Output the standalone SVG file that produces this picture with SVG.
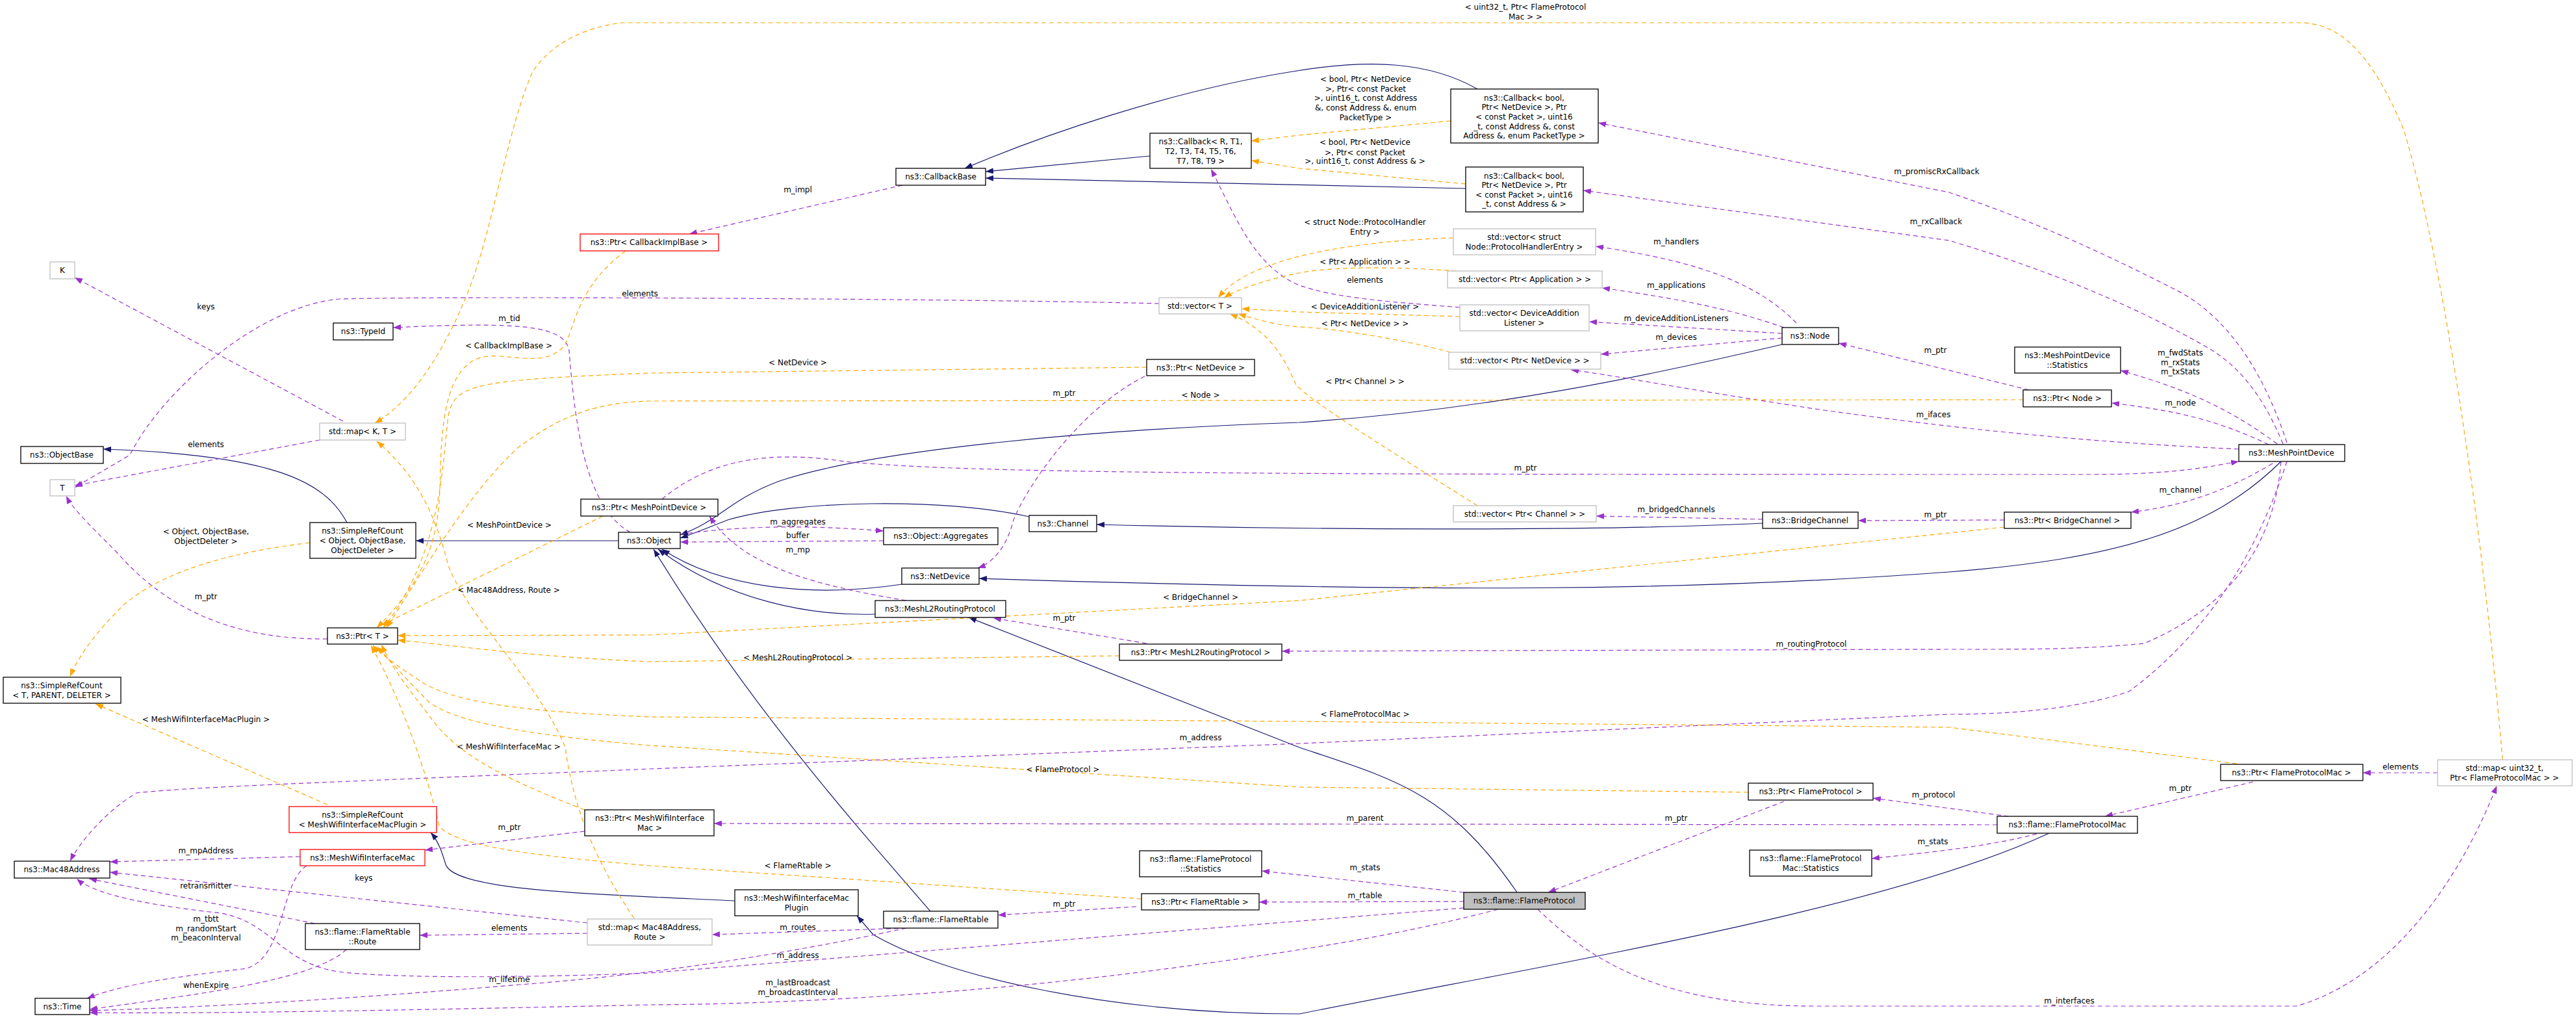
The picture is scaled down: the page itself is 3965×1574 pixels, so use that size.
<svg xmlns="http://www.w3.org/2000/svg" width="3965" height="1574" viewBox="0 0 3965 1574">
<style>
text{font-family:"DejaVu Sans","Liberation Sans",sans-serif;font-size:12px;fill:#000}
.n text,.lb{text-anchor:middle}
.b{fill:#fff;stroke:#000;stroke-width:1.3}
.g{fill:#fff;stroke:#bfbfbf;stroke-width:1.3}
.r{fill:#fff;stroke:#ff0000;stroke-width:1.3}
.h{fill:#bfbfbf;stroke:#000;stroke-width:1.3}
.i{fill:none;stroke:#191970;stroke-width:1.2;marker-end:url(#ai)}
.u{fill:none;stroke:#9a32cd;stroke-width:1.2;stroke-dasharray:7,5;marker-end:url(#au)}
.t{fill:none;stroke:#ffa500;stroke-width:1.2;stroke-dasharray:7,5;marker-end:url(#at)}
</style>
<defs>
<marker id="ai" markerWidth="12" markerHeight="9" refX="12" refY="4.5" orient="auto" markerUnits="userSpaceOnUse"><path d="M0,0 L12,4.5 L0,9 z" fill="#191970"/></marker>
<marker id="au" markerWidth="12" markerHeight="9" refX="12" refY="4.5" orient="auto" markerUnits="userSpaceOnUse"><path d="M0,0 L12,4.5 L0,9 z" fill="#9a32cd"/></marker>
<marker id="at" markerWidth="12" markerHeight="9" refX="12" refY="4.5" orient="auto" markerUnits="userSpaceOnUse"><path d="M0,0 L12,4.5 L0,9 z" fill="#ffa500"/></marker>
</defs>
<rect width="3965" height="1574" fill="#fff"/>
<g id="connectors">
<path class="i" d="M534,804 C500,740 420,700 159,691"/>
<path class="i" d="M952,832 L640,832"/>
<path class="i" d="M1770,240 L1517,264"/>
<path class="i" d="M2274,137 C2200,95 2110,90 1990,110 C1800,140 1600,210 1485,259"/>
<path class="i" d="M2256,290 L1517,274"/>
<path class="i" d="M2743,530 C2550,575 2300,630 2000,650 C1700,660 1350,690 1200,740 C1120,770 1110,800 1047,823"/>
<path class="i" d="M1584,795 C1450,765 1220,770 1120,800 C1090,812 1070,820 1047,828"/>
<path class="i" d="M1388,899 C1250,920 1110,905 1019,845"/>
<path class="i" d="M1347,945 C1250,948 1120,925 1013,845"/>
<path class="i" d="M1432,1402 C1300,1250 1150,1080 1006,845"/>
<path class="i" d="M1131,1386 C900,1375 700,1370 686,1330 C680,1310 675,1295 663,1281"/>
<path class="i" d="M3154,1282 C2900,1400 2400,1480 2000,1560 C1700,1560 1450,1500 1344,1438 L1319,1409"/>
<path class="i" d="M2335,1373 C2230,1220 2150,1200 2000,1150 L1491,950"/>
<path class="i" d="M3511,710 C3400,820 3250,860 3000,880 C2600,910 2200,912 1507,890"/>
<path class="i" d="M2713,805 C2450,818 2000,815 1688,807"/>

<path class="u" d="M528,648 L115,427"/>
<path class="u" d="M492,677 L115,747"/>
<path class="u" d="M1784,467 C1500,460 700,455 523,460 C400,470 250,600 200,700 L115,750"/>
<path class="u" d="M504,983 C350,985 250,930 180,850 C130,800 110,780 102,763"/>
<path class="u" d="M970,819 C900,780 885,650 876,540 C870,500 800,495 605,504"/>
<path class="u" d="M1389,285 L1061,360"/>
<path class="u" d="M1047,822 C1150,808 1250,808 1360,817"/>
<path class="u" d="M1360,832 L1047,834"/>
<path class="u" d="M1395,924 C1250,900 1140,870 1092,794"/>
<path class="u" d="M1762,579 C1660,630 1580,750 1560,800 C1550,840 1530,865 1505,874"/>
<path class="u" d="M1019,768 C1100,700 1200,695 1300,710 C1500,730 2000,730 3215,730 C3350,730 3400,718 3446,710"/>
<path class="u" d="M1765,990 L1529,951"/>
<path class="u" d="M1749,1395 L1536,1408"/>
<path class="u" d="M904,1436 L646,1439"/>
<path class="u" d="M904,1420 L169,1342"/>
<path class="u" d="M1395,1428 L1096,1438"/>
<path class="u" d="M485,1421 L137,1352"/>
<path class="u" d="M533,1461 C480,1510 300,1530 138,1553"/>
<path class="u" d="M462,1318 L169,1326"/>
<path class="u" d="M472,1332 C430,1360 440,1470 380,1490 C300,1500 200,1510 134,1536"/>
<path class="u" d="M900,1279 L654,1308"/>
<path class="u" d="M3074,1269 L1099,1267"/>
<path class="u" d="M2746,1233 L2383,1373"/>
<path class="u" d="M3092,1256 L2883,1228"/>
<path class="u" d="M3135,1283 C3050,1305 2950,1313 2881,1321"/>
<path class="u" d="M3468,1203 L3240,1256"/>
<path class="u" d="M3752,1189 L3637,1189"/>
<path class="u" d="M2367,1399 C2450,1480 2560,1548 2794,1548 L3535,1548 C3700,1500 3800,1320 3843,1209"/>
<path class="u" d="M2253,1373 L1942,1340"/>
<path class="u" d="M2253,1387 L1938,1388"/>
<path class="u" d="M2253,1397 L1000,1497 C800,1505 600,1505 520,1495 C430,1480 420,1420 340,1405 C250,1395 150,1380 118,1352"/>
<path class="u" d="M1395,1428 C1200,1470 1000,1500 800,1515 C500,1540 300,1550 138,1555"/>
<path class="u" d="M2306,1399 C2150,1440 2000,1463 1800,1490 C1500,1530 1200,1545 1000,1546 C600,1555 300,1560 138,1558"/>
<path class="u" d="M3520,710 C3490,800 3430,950 3277,1064 C3200,1090 3100,1099 3000,1099 L2000,1144 L1000,1183 C600,1200 300,1210 210,1220 C160,1250 120,1300 108,1325"/>
<path class="u" d="M2765,497 C2700,430 2600,400 2456,379"/>
<path class="u" d="M2746,504 C2650,470 2550,455 2466,443"/>
<path class="u" d="M2743,513 L2446,495"/>
<path class="u" d="M2743,520 L2464,545"/>
<path class="u" d="M3446,691 C3200,680 3000,658 2800,630 C2600,600 2500,580 2418,569"/>
<path class="u" d="M3492,684 C3400,640 3330,630 3250,620"/>
<path class="u" d="M3505,683 C3420,620 3350,595 3264,570"/>
<path class="u" d="M3520,681 C3480,560 3420,480 3345,444 C3200,370 3100,330 3000,296 L2460,189"/>
<path class="u" d="M3514,683 C3480,600 3440,560 3400,536 C3250,450 3100,400 3000,370 L2437,293"/>
<path class="u" d="M3498,713 C3420,760 3350,780 3280,788"/>
<path class="u" d="M3511,710 C3500,850 3420,940 3300,990 C3200,1000 3100,999 3000,999 L1973,1002"/>
<path class="u" d="M2713,799 L2457,794"/>
<path class="u" d="M3085,800 L2860,801"/>
<path class="u" d="M3123,600 L2830,528"/>
<path class="u" d="M2247,473 C2150,465 2060,460 2000,439 C1930,410 1900,330 1864,260"/>

<path class="t" d="M963,386 C890,440 885,500 870,530 C840,570 780,540 740,550 C690,565 680,640 678,720 C676,800 676,870 580,966"/>
<path class="t" d="M1765,565 L1000,574 C730,585 700,590 690,640 C680,720 680,850 590,966"/>
<path class="t" d="M3114,615 L1000,617 C900,620 850,650 797,689 C720,760 650,880 595,966"/>
<path class="t" d="M928,794 L587,962"/>
<path class="t" d="M976,1413 C900,1300 880,1220 870,1150 C830,1050 720,950 690,870 C670,790 640,730 580,679"/>
<path class="t" d="M3852,1169 C3820,800 3760,400 3700,200 C3650,80 3600,35 3540,35 L957,35 C880,45 840,80 820,110 C780,200 760,350 720,450 C680,550 630,620 577,651"/>
<path class="t" d="M477,835 C350,850 250,880 191,930 C150,970 120,1010 108,1041"/>
<path class="t" d="M504,1238 L147,1083"/>
<path class="t" d="M900,1246 C780,1200 700,1160 660,1100 C620,1050 600,1020 587,992"/>
<path class="t" d="M1723,1009 L1000,1018 C800,1010 680,990 612,985"/>
<path class="t" d="M3085,811 L3000,820 L2000,924 L1000,977 L612,978"/>
<path class="t" d="M3443,1175 L3000,1119 L2000,1110 L1000,1103 C800,1095 700,1080 650,1050 C620,1030 590,1010 574,993"/>
<path class="t" d="M2691,1219 L2000,1211 L1000,1147 C800,1130 700,1110 660,1080 C620,1040 595,1010 580,995"/>
<path class="t" d="M1757,1383 L1000,1332 C800,1315 700,1300 676,1271 C660,1200 620,1080 571,993"/>
<path class="t" d="M2237,366 C2100,370 2000,390 1950,410 C1910,425 1890,440 1875,458"/>
<path class="t" d="M2242,417 C2150,410 2050,410 2000,420 C1950,430 1905,445 1884,458"/>
<path class="t" d="M2247,487 L2000,480 L1911,475"/>
<path class="t" d="M2233,542 C2150,520 2050,505 2000,503 C1960,500 1930,490 1906,483"/>
<path class="t" d="M2274,778 C2150,700 2020,620 1995,592 C1980,560 1960,510 1893,483"/>
<path class="t" d="M2233,186 L2000,208 L1926,217"/>
<path class="t" d="M2256,283 L2000,259 L1926,247"/>

<g class="lb">
<text x="317" y="476">keys</text>
<text x="317" y="688">elements</text>
<text x="985" y="456">elements</text>
<text x="317" y="922">m_ptr</text>
<text x="784" y="494">m_tid</text>
<text x="1228" y="296">m_impl</text>
<text x="1228" y="807">m_aggregates</text>
<text x="1228" y="828">buffer</text>
<text x="1228" y="850">m_mp</text>
<text x="1638" y="609">m_ptr</text>
<text x="2348" y="724">m_ptr</text>
<text x="1638" y="955">m_ptr</text>
<text x="1638" y="1395">m_ptr</text>
<text x="784" y="1432">elements</text>
<text x="560" y="1355">keys</text>
<text x="1228" y="1431">m_routes</text>
<text x="317" y="1367">retransmitter</text>
<text x="317" y="1520">whenExpire</text>
<text x="317" y="1313">m_mpAddress</text>
<text x="317" y="1418">m_tbtt</text>
<text x="317" y="1433">m_randomStart</text>
<text x="317" y="1447">m_beaconInterval</text>
<text x="784" y="1277">m_ptr</text>
<text x="2101" y="1263">m_parent</text>
<text x="2580" y="1263">m_ptr</text>
<text x="2976" y="1227">m_protocol</text>
<text x="2975" y="1299">m_stats</text>
<text x="3356" y="1217">m_ptr</text>
<text x="3695" y="1184">elements</text>
<text x="3185" y="1544">m_interfaces</text>
<text x="2101" y="1339">m_stats</text>
<text x="2101" y="1382">m_rtable</text>
<text x="1228" y="1474">m_address</text>
<text x="784" y="1511">m_lifetime</text>
<text x="1228" y="1516">m_lastBroadcast</text>
<text x="1228" y="1531">m_broadcastInterval</text>
<text x="1848" y="1139">m_address</text>
<text x="2580" y="376">m_handlers</text>
<text x="2580" y="443">m_applications</text>
<text x="2580" y="494">m_deviceAdditionListeners</text>
<text x="2580" y="523">m_devices</text>
<text x="2976" y="642">m_ifaces</text>
<text x="3356" y="624">m_node</text>
<text x="3356" y="547">m_fwdStats</text>
<text x="3356" y="562">m_rxStats</text>
<text x="3356" y="576">m_txStats</text>
<text x="2981" y="268">m_promiscRxCallback</text>
<text x="2980" y="345">m_rxCallback</text>
<text x="3356" y="758">m_channel</text>
<text x="2788" y="995">m_routingProtocol</text>
<text x="2580" y="788">m_bridgedChannels</text>
<text x="2979" y="796">m_ptr</text>
<text x="2979" y="543">m_ptr</text>
<text x="2101" y="435">elements</text>
<text x="783" y="536">&lt; CallbackImplBase &gt;</text>
<text x="1228" y="562">&lt; NetDevice &gt;</text>
<text x="1848" y="612">&lt; Node &gt;</text>
<text x="784" y="812">&lt; MeshPointDevice &gt;</text>
<text x="783" y="912">&lt; Mac48Address, Route &gt;</text>
<text x="2348" y="15">&lt; uint32_t, Ptr&lt; FlameProtocol</text>
<text x="2348" y="30">Mac &gt; &gt;</text>
<text x="317" y="822">&lt; Object, ObjectBase,</text>
<text x="317" y="837">ObjectDeleter &gt;</text>
<text x="317" y="1111">&lt; MeshWifiInterfaceMacPlugin &gt;</text>
<text x="783" y="1153">&lt; MeshWifiInterfaceMac &gt;</text>
<text x="1228" y="1016">&lt; MeshL2RoutingProtocol &gt;</text>
<text x="1848" y="923">&lt; BridgeChannel &gt;</text>
<text x="2101" y="1103">&lt; FlameProtocolMac &gt;</text>
<text x="1636" y="1188">&lt; FlameProtocol &gt;</text>
<text x="1228" y="1336">&lt; FlameRtable &gt;</text>
<text x="2101" y="346">&lt; struct Node::ProtocolHandler</text>
<text x="2101" y="361">Entry &gt;</text>
<text x="2101" y="407">&lt; Ptr&lt; Application &gt; &gt;</text>
<text x="2101" y="476">&lt; DeviceAdditionListener &gt;</text>
<text x="2101" y="502">&lt; Ptr&lt; NetDevice &gt; &gt;</text>
<text x="2101" y="591">&lt; Ptr&lt; Channel &gt; &gt;</text>
<text x="2102" y="126">&lt; bool, Ptr&lt; NetDevice</text>
<text x="2102" y="141">&gt;, Ptr&lt; const Packet</text>
<text x="2102" y="155">&gt;, uint16_t, const Address</text>
<text x="2102" y="170">&amp;, const Address &amp;, enum</text>
<text x="2102" y="185">PacketType &gt;</text>
<text x="2101" y="223">&lt; bool, Ptr&lt; NetDevice</text>
<text x="2101" y="239">&gt;, Ptr&lt; const Packet</text>
<text x="2101" y="252">&gt;, uint16_t, const Address &amp; &gt;</text>
</g>
</g>

<g id="K" class="n"><rect class="g" x="77" y="403" width="38" height="26"/><text x="96" y="420">K</text></g>
<g id="TypeId" class="n"><rect class="b" x="513" y="497" width="92" height="26"/><text x="559" y="514">ns3::TypeId</text></g>
<g id="mapKT" class="n"><rect class="g" x="492" y="651" width="132" height="26"/><text x="558" y="668">std::map&lt; K, T &gt;</text></g>
<g id="ObjectBase" class="n"><rect class="b" x="32" y="687" width="127" height="26"/><text x="95" y="704">ns3::ObjectBase</text></g>
<g id="T" class="n"><rect class="g" x="77" y="738" width="38" height="25"/><text x="96" y="755">T</text></g>
<g id="PtrCIB" class="n"><rect class="r" x="893" y="360" width="213" height="26"/><text x="999" y="377">ns3::Ptr&lt; CallbackImplBase &gt;</text></g>
<g id="PtrMPD" class="n"><rect class="b" x="894" y="768" width="211" height="26"/><text x="999" y="785">ns3::Ptr&lt; MeshPointDevice &gt;</text></g>
<g id="SRCObj" class="n"><rect class="b" x="477" y="804" width="163" height="55"/><text x="558" y="821">ns3::SimpleRefCount</text><text x="558" y="836">&lt; Object, ObjectBase,</text><text x="558" y="851">ObjectDeleter &gt;</text></g>
<g id="PtrT" class="n"><rect class="b" x="504" y="966" width="108" height="25"/><text x="558" y="983">ns3::Ptr&lt; T &gt;</text></g>
<g id="SRCTPD" class="n"><rect class="b" x="5" y="1042" width="181" height="40"/><text x="95" y="1059">ns3::SimpleRefCount</text><text x="95" y="1074">&lt; T, PARENT, DELETER &gt;</text></g>
<g id="SRCPlugin" class="n"><rect class="r" x="445" y="1241" width="227" height="40"/><text x="558" y="1258">ns3::SimpleRefCount</text><text x="558" y="1273">&lt; MeshWifiInterfaceMacPlugin &gt;</text></g>
<g id="MWIM" class="n"><rect class="r" x="462" y="1307" width="192" height="25"/><text x="558" y="1324">ns3::MeshWifiInterfaceMac</text></g>
<g id="Mac48" class="n"><rect class="b" x="22" y="1325" width="147" height="26"/><text x="95" y="1342">ns3::Mac48Address</text></g>
<g id="Route" class="n"><rect class="b" x="470" y="1421" width="176" height="40"/><text x="558" y="1438">ns3::flame::FlameRtable</text><text x="558" y="1453">::Route</text></g>
<g id="Time" class="n"><rect class="b" x="54" y="1536" width="84" height="25"/><text x="96" y="1553">ns3::Time</text></g>
<g id="mapMacRoute" class="n"><rect class="g" x="904" y="1414" width="192" height="40"/><text x="1000" y="1431">std::map&lt; Mac48Address,</text><text x="1000" y="1446">Route &gt;</text></g>
<g id="PtrMWIM" class="n"><rect class="b" x="900" y="1246" width="199" height="40"/><text x="1000" y="1263">ns3::Ptr&lt; MeshWifiInterface</text><text x="1000" y="1278">Mac &gt;</text></g>
<g id="Object" class="n"><rect class="b" x="952" y="819" width="95" height="25"/><text x="999" y="836">ns3::Object</text></g>
<g id="CallbackBase" class="n"><rect class="b" x="1379" y="259" width="138" height="26"/><text x="1448" y="276">ns3::CallbackBase</text></g>
<g id="CallbackR" class="n"><rect class="b" x="1770" y="205" width="156" height="54"/><text x="1848" y="222">ns3::Callback&lt; R, T1,</text><text x="1848" y="237">T2, T3, T4, T5, T6,</text><text x="1848" y="252">T7, T8, T9 &gt;</text></g>
<g id="vectorT" class="n"><rect class="g" x="1784" y="458" width="127" height="25"/><text x="1847" y="475">std::vector&lt; T &gt;</text></g>
<g id="PtrND" class="n"><rect class="b" x="1765" y="553" width="166" height="25"/><text x="1848" y="570">ns3::Ptr&lt; NetDevice &gt;</text></g>
<g id="Channel" class="n"><rect class="b" x="1584" y="793" width="104" height="25"/><text x="1636" y="810">ns3::Channel</text></g>
<g id="Aggregates" class="n"><rect class="b" x="1360" y="812" width="176" height="26"/><text x="1448" y="829">ns3::Object::Aggregates</text></g>
<g id="NetDevice" class="n"><rect class="b" x="1388" y="874" width="119" height="25"/><text x="1447" y="891">ns3::NetDevice</text></g>
<g id="MeshL2" class="n"><rect class="b" x="1347" y="924" width="201" height="26"/><text x="1447" y="941">ns3::MeshL2RoutingProtocol</text></g>
<g id="PtrMeshL2" class="n"><rect class="b" x="1723" y="991" width="250" height="25"/><text x="1848" y="1008">ns3::Ptr&lt; MeshL2RoutingProtocol &gt;</text></g>
<g id="FPStats" class="n"><rect class="b" x="1754" y="1309" width="188" height="40"/><text x="1848" y="1326">ns3::flame::FlameProtocol</text><text x="1848" y="1341">::Statistics</text></g>
<g id="PtrFR" class="n"><rect class="b" x="1757" y="1375" width="181" height="25"/><text x="1847" y="1392">ns3::Ptr&lt; FlameRtable &gt;</text></g>
<g id="Plugin" class="n"><rect class="b" x="1131" y="1369" width="190" height="40"/><text x="1226" y="1386">ns3::MeshWifiInterfaceMac</text><text x="1226" y="1401">Plugin</text></g>
<g id="FlameRtable" class="n"><rect class="b" x="1360" y="1402" width="176" height="26"/><text x="1448" y="1419">ns3::flame::FlameRtable</text></g>
<g id="Callback7" class="n"><rect class="b" x="2233" y="137" width="227" height="83"/><text x="2346" y="155">ns3::Callback&lt; bool,</text><text x="2346" y="169">Ptr&lt; NetDevice &gt;, Ptr</text><text x="2346" y="184">&lt; const Packet &gt;, uint16</text><text x="2346" y="199">_t, const Address &amp;, const</text><text x="2346" y="213">Address &amp;, enum PacketType &gt;</text></g>
<g id="Callback4" class="n"><rect class="b" x="2256" y="257" width="181" height="69"/><text x="2346" y="275">ns3::Callback&lt; bool,</text><text x="2346" y="289">Ptr&lt; NetDevice &gt;, Ptr</text><text x="2346" y="304">&lt; const Packet &gt;, uint16</text><text x="2346" y="318">_t, const Address &amp; &gt;</text></g>
<g id="vecPHE" class="n"><rect class="g" x="2237" y="352" width="219" height="40"/><text x="2346" y="369">std::vector&lt; struct</text><text x="2346" y="384">Node::ProtocolHandlerEntry &gt;</text></g>
<g id="vecApp" class="n"><rect class="g" x="2228" y="417" width="238" height="26"/><text x="2347" y="434">std::vector&lt; Ptr&lt; Application &gt; &gt;</text></g>
<g id="vecDAL" class="n"><rect class="g" x="2247" y="469" width="199" height="40"/><text x="2346" y="486">std::vector&lt; DeviceAddition</text><text x="2346" y="501">Listener &gt;</text></g>
<g id="vecND" class="n"><rect class="g" x="2230" y="542" width="234" height="26"/><text x="2347" y="559">std::vector&lt; Ptr&lt; NetDevice &gt; &gt;</text></g>
<g id="Node" class="n"><rect class="b" x="2743" y="504" width="87" height="26"/><text x="2786" y="521">ns3::Node</text></g>
<g id="vecCh" class="n"><rect class="g" x="2237" y="778" width="220" height="25"/><text x="2347" y="795">std::vector&lt; Ptr&lt; Channel &gt; &gt;</text></g>
<g id="BridgeChannel" class="n"><rect class="b" x="2713" y="788" width="147" height="25"/><text x="2786" y="805">ns3::BridgeChannel</text></g>
<g id="PtrFP" class="n"><rect class="b" x="2691" y="1205" width="192" height="26"/><text x="2787" y="1222">ns3::Ptr&lt; FlameProtocol &gt;</text></g>
<g id="FPMStats" class="n"><rect class="b" x="2693" y="1308" width="188" height="40"/><text x="2787" y="1325">ns3::flame::FlameProtocol</text><text x="2787" y="1340">Mac::Statistics</text></g>
<g id="FlameProtocol" class="n"><rect class="h" x="2253" y="1373" width="187" height="26"/><text x="2346" y="1390">ns3::flame::FlameProtocol</text></g>
<g id="MPDStats" class="n"><rect class="b" x="3101" y="534" width="163" height="40"/><text x="3182" y="551">ns3::MeshPointDevice</text><text x="3182" y="566">::Statistics</text></g>
<g id="PtrNode" class="n"><rect class="b" x="3114" y="600" width="136" height="26"/><text x="3182" y="617">ns3::Ptr&lt; Node &gt;</text></g>
<g id="MPD" class="n"><rect class="b" x="3446" y="684" width="163" height="26"/><text x="3527" y="701">ns3::MeshPointDevice</text></g>
<g id="PtrBC" class="n"><rect class="b" x="3085" y="788" width="195" height="25"/><text x="3182" y="805">ns3::Ptr&lt; BridgeChannel &gt;</text></g>
<g id="PtrFPM" class="n"><rect class="b" x="3418" y="1176" width="219" height="25"/><text x="3527" y="1193">ns3::Ptr&lt; FlameProtocolMac &gt;</text></g>
<g id="mapU32" class="n"><rect class="g" x="3752" y="1169" width="207" height="40"/><text x="3855" y="1186">std::map&lt; uint32_t,</text><text x="3855" y="1201">Ptr&lt; FlameProtocolMac &gt; &gt;</text></g>
<g id="FPM" class="n"><rect class="b" x="3074" y="1256" width="216" height="26"/><text x="3182" y="1273">ns3::flame::FlameProtocolMac</text></g>
</svg>
